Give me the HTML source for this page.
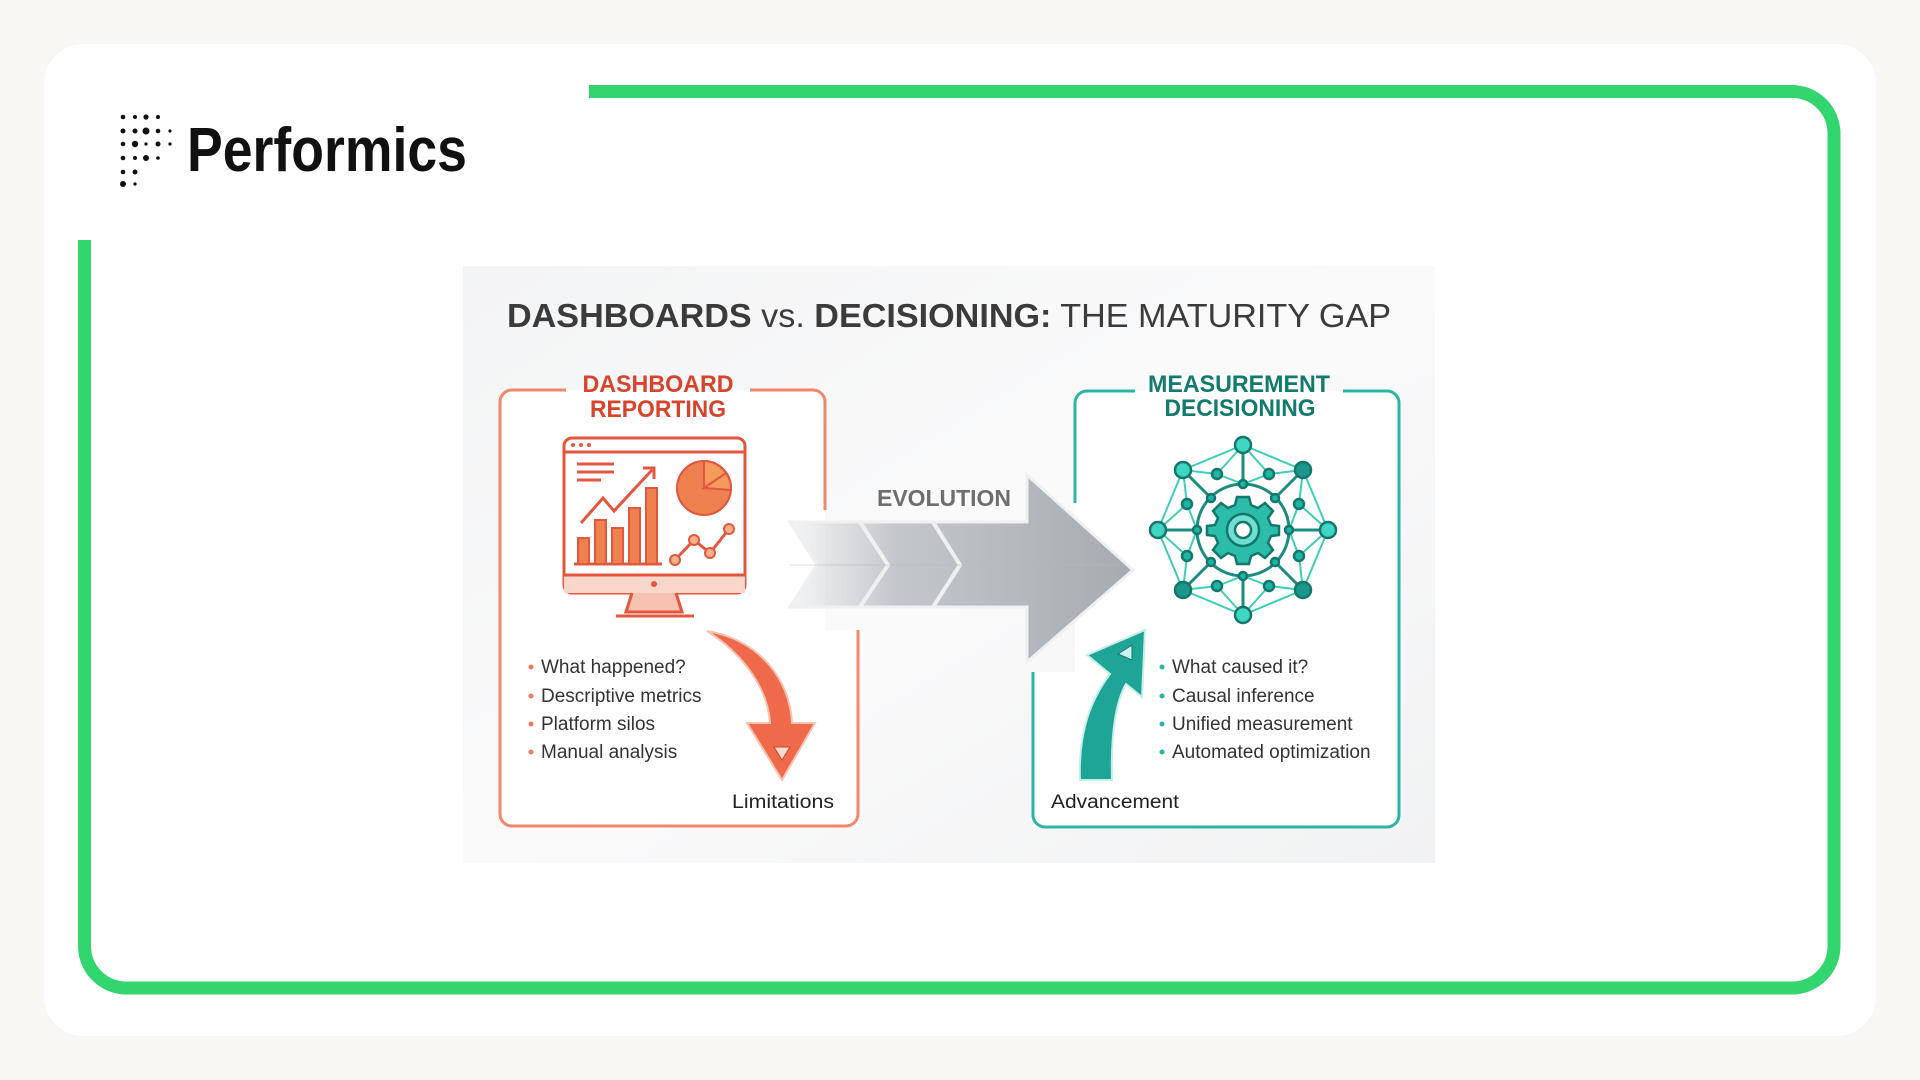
<!DOCTYPE html>
<html><head><meta charset="utf-8"><style>
html,body{margin:0;padding:0;width:1920px;height:1080px;background:#f8f7f4;overflow:hidden}
svg{display:block}
</style></head><body>
<svg width="1920" height="1080" viewBox="0 0 1920 1080" xmlns="http://www.w3.org/2000/svg" font-family="'Liberation Sans', sans-serif">
<defs>
<linearGradient id="bg" x1="0" y1="0" x2="1" y2="1"><stop offset="0" stop-color="#f3f4f5"/><stop offset="0.5" stop-color="#fafafb"/><stop offset="1" stop-color="#f1f2f3"/></linearGradient>
<linearGradient id="ar" x1="0" y1="0" x2="1" y2="0"><stop offset="0" stop-color="#d8dadd" stop-opacity="0.3"/><stop offset="0.3" stop-color="#c4c7cb"/><stop offset="1" stop-color="#a7abb1"/></linearGradient>
</defs>
<rect x="44" y="44" width="1832" height="992" rx="40" fill="#ffffff"/>
<path d="M84.5 240 V946 a42 42 0 0 0 42 42 H1792 a42 42 0 0 0 42 -42 V133.5 a42 42 0 0 0 -42 -42 H589" fill="none" stroke="#33d56f" stroke-width="13"/>
<!-- logo -->
<g fill="#111" transform="translate(0,-4)">
<circle cx="123" cy="121" r="2.3"/><circle cx="135" cy="121" r="2"/><circle cx="146" cy="121" r="2.6"/><circle cx="158" cy="121" r="2"/>
<circle cx="123" cy="135" r="2.5"/><circle cx="135" cy="135" r="2.5"/><circle cx="146" cy="135" r="3.5"/><circle cx="158" cy="135" r="2.3"/><circle cx="170" cy="135" r="1.6"/>
<circle cx="123" cy="148" r="2.3"/><circle cx="135" cy="148" r="3.2"/><circle cx="146" cy="148" r="1.6"/><circle cx="158" cy="148" r="2.5"/><circle cx="170" cy="148" r="1.6"/>
<circle cx="123" cy="162" r="2.3"/><circle cx="135" cy="162" r="2"/><circle cx="146" cy="162" r="3"/><circle cx="158" cy="162" r="1.8"/>
<circle cx="123" cy="176" r="2.3"/><circle cx="135" cy="176" r="2.5"/>
<circle cx="123" cy="188" r="3"/><circle cx="135" cy="188" r="1.6"/>
</g>
<text x="187" y="171" font-size="62" font-weight="bold" fill="#111" textLength="280" lengthAdjust="spacingAndGlyphs">Performics</text>
<!-- diagram background -->
<rect x="463" y="266" width="972" height="597" fill="url(#bg)"/>
<text x="507" y="327" font-size="33" fill="#3b3b3b" textLength="884" lengthAdjust="spacingAndGlyphs"><tspan font-weight="bold">DASHBOARDS</tspan> vs. <tspan font-weight="bold">DECISIONING:</tspan> THE MATURITY GAP</text>
<!-- left box -->
<path d="M500 390 H825 V630 H858 V826 H500 Z" fill="#fff"/>
<g fill="none" stroke="#f2876b" stroke-width="3">
<path d="M566 390 H512 a12 12 0 0 0 -12 12 V814 a12 12 0 0 0 12 12 H846 a12 12 0 0 0 12 -12 V630"/>
<path d="M750 390 H813 a12 12 0 0 1 12 12 V510"/>
</g>
<text x="658" y="392" font-size="24" font-weight="bold" fill="#d8432b" text-anchor="middle" textLength="151" lengthAdjust="spacingAndGlyphs">DASHBOARD</text>
<text x="658" y="417" font-size="24" font-weight="bold" fill="#d8432b" text-anchor="middle" textLength="136" lengthAdjust="spacingAndGlyphs">REPORTING</text>
<!-- monitor -->
<g stroke="#e2573d" stroke-width="3" fill="none">
<rect x="564" y="438" width="181" height="155" rx="8" fill="#fff"/>
<line x1="564" y1="452" x2="745" y2="452"/>
<rect x="564" y="575" width="181" height="18" fill="#fbd6cb" stroke="none"/>
<line x1="564" y1="575" x2="745" y2="575"/>
<path d="M632 593 L626 612 H682 L676 593" fill="#f7c2b0"/>
<line x1="616" y1="616" x2="694" y2="616"/>
<line x1="577" y1="464" x2="614" y2="464"/><line x1="577" y1="472" x2="614" y2="472"/><line x1="577" y1="480" x2="601" y2="480"/>
<path d="M581 523 L603 498 L614 511 L652 470"/><path d="M643 468 L654 468 L654 479"/>
<line x1="574" y1="564" x2="662" y2="564"/>
<path d="M675 560 L694 540 L710 553 L729 529"/>
</g>
<g fill="#ef8050" stroke="#e2573d" stroke-width="2">
<rect x="578" y="538" width="11" height="26"/><rect x="595" y="520" width="11" height="44"/><rect x="612" y="528" width="11" height="36"/><rect x="629" y="508" width="11" height="56"/><rect x="646" y="488" width="11" height="76"/>
<circle cx="704" cy="488" r="27"/>
<path d="M704 488 L704 461 A27 27 0 0 1 726 473 Z" fill="#f49a5c"/><path d="M704 488 L726 473 A27 27 0 0 1 731 490 Z" fill="#f49a5c"/>
<circle cx="675" cy="560" r="5" fill="#f6b08a"/><circle cx="694" cy="540" r="5" fill="#f6b08a"/><circle cx="710" cy="553" r="5" fill="#f6b08a"/><circle cx="729" cy="529" r="5" fill="#f6b08a"/>
</g>
<circle cx="654" cy="584" r="3" fill="#e2573d"/>
<g fill="#e2573d"><circle cx="573" cy="445" r="2"/><circle cx="581" cy="445" r="2"/><circle cx="589" cy="445" r="2"/></g>
<!-- left bullets -->
<g font-size="19" fill="#333">
<text x="541" y="673">What happened?</text><text x="541" y="702">Descriptive metrics</text><text x="541" y="730">Platform silos</text><text x="541" y="758">Manual analysis</text>
</g>
<g fill="#ee7a62"><circle cx="531" cy="667" r="2.5"/><circle cx="531" cy="696" r="2.5"/><circle cx="531" cy="724" r="2.5"/><circle cx="531" cy="752" r="2.5"/></g>
<text x="732" y="808" font-size="19" fill="#222" textLength="102" lengthAdjust="spacingAndGlyphs">Limitations</text>
<!-- orange arrow -->
<path d="M707 631 C760 640 790 680 792 723 L815 723 L782 780 L747 723 L770 723 C768 690 745 655 707 631 Z" fill="#ee6a4a" stroke="#f8c2b1" stroke-width="2"/>
<path d="M774 747 L790 747 L782 760 Z" fill="#fbd9cf" stroke="#c64a30"/>
<!-- right box -->
<path d="M1075 391 H1399 V827 H1033 V672 H1075 Z" fill="#fff"/>
<g fill="none" stroke="#2bb5a8" stroke-width="3">
<path d="M1135 391 H1087 a12 12 0 0 0 -12 12 V503"/>
<path d="M1343 391 H1387 a12 12 0 0 1 12 12 V815 a12 12 0 0 1 -12 12 H1045 a12 12 0 0 1 -12 -12 V672"/>
</g>
<text x="1239" y="392" font-size="24" font-weight="bold" fill="#137a70" text-anchor="middle" textLength="182" lengthAdjust="spacingAndGlyphs">MEASUREMENT</text>
<text x="1240" y="416" font-size="24" font-weight="bold" fill="#137a70" text-anchor="middle" textLength="151" lengthAdjust="spacingAndGlyphs">DECISIONING</text>
<!-- evolution arrow -->
<path d="M790 522 H1027 V475 L1133 570 L1027 662 V607 H790 L817 565 Z" fill="url(#ar)" stroke="#eef0f1" stroke-width="3"/>
<path d="M860 522 L888 565 L860 607 M933 522 L960 565 L933 607" fill="none" stroke="#eef0f1" stroke-width="4"/>
<path d="M790 565 H1120" stroke="#b7bbc0" stroke-width="1" opacity="0.5"/>
<text x="944" y="506" font-size="23" font-weight="bold" fill="#6e6e70" text-anchor="middle" textLength="134" lengthAdjust="spacingAndGlyphs">EVOLUTION</text>
<!-- network -->
<g transform="translate(1243,530)">
<g stroke="#3ccfb8" stroke-width="2" fill="none">
<polygon points="0,-85 60,-60 85,0 60,60 0,85 -60,60 -85,0 -60,-60"/>
<circle r="46" stroke="#1a8c80" stroke-width="3"/>
<path d="M0,-85 L0,-46 M60,-60 L32,-32 M85,0 L46,0 M60,60 L32,32 M0,85 L0,46 M-60,60 L-32,32 M-85,0 L-46,0 M-60,-60 L-32,-32" stroke="#1a8c80" stroke-width="3"/>
<path d="M0,-85 L-26,-56 L-60,-60 M0,-85 L26,-56 L60,-60 M60,-60 L56,-26 L85,0 M85,0 L56,26 L60,60 M60,60 L26,56 L0,85 M0,85 L-26,56 L-60,60 M-60,60 L-56,26 L-85,0 M-85,0 L-56,-26 L-60,-60"/>
<path d="M-26,-56 L0,-46 L26,-56 M56,-26 L46,0 L56,26 M26,56 L0,46 L-26,56 M-56,26 L-46,0 L-56,-26"/>
</g>
<g fill="#1fb5a3" stroke="#14776d" stroke-width="2.5">
<circle cx="0" cy="-85" r="8" fill="#3fd6c2"/><circle cx="60" cy="-60" r="8" fill="#1a968a"/><circle cx="85" cy="0" r="8" fill="#3fd6c2"/><circle cx="60" cy="60" r="8" fill="#1a968a"/>
<circle cx="0" cy="85" r="8" fill="#3fd6c2"/><circle cx="-60" cy="60" r="8" fill="#1a968a"/><circle cx="-85" cy="0" r="8" fill="#3fd6c2"/><circle cx="-60" cy="-60" r="8" fill="#3fd6c2"/>
<circle cx="-26" cy="-56" r="5"/><circle cx="26" cy="-56" r="5"/><circle cx="56" cy="-26" r="5"/><circle cx="56" cy="26" r="5"/><circle cx="26" cy="56" r="5"/><circle cx="-26" cy="56" r="5"/><circle cx="-56" cy="26" r="5"/><circle cx="-56" cy="-26" r="5"/>
<circle cx="0" cy="-46" r="4"/><circle cx="46" cy="0" r="4"/><circle cx="0" cy="46" r="4"/><circle cx="-46" cy="0" r="4"/>
<circle cx="32" cy="-32" r="4"/><circle cx="32" cy="32" r="4"/><circle cx="-32" cy="32" r="4"/><circle cx="-32" cy="-32" r="4"/>
</g>
<g fill="#2bbcaa" stroke="#14776d" stroke-width="2.5">
<path d="M-6,-32 L6,-32 L8,-24 L15,-21 L22,-26 L30,-18 L25,-11 L28,-4 L36,-3 V6 L28,7 L25,14 L30,21 L22,29 L15,24 L8,27 L6,35 H-6 L-8,27 L-15,24 L-22,29 L-30,21 L-25,14 L-28,7 L-36,6 V-3 L-28,-4 L-25,-11 L-30,-18 L-22,-26 L-15,-21 L-8,-24 Z" transform="translate(0,-1)"/>
<circle r="16" fill="#6fe0cf"/><circle r="8" fill="#fff"/>
</g>
</g>
<!-- right bullets -->
<g font-size="19" fill="#333">
<text x="1172" y="673">What caused it?</text><text x="1172" y="702">Causal inference</text><text x="1172" y="730">Unified measurement</text><text x="1172" y="758">Automated optimization</text>
</g>
<g fill="#2bb5a8"><circle cx="1162" cy="667" r="2.5"/><circle cx="1162" cy="696" r="2.5"/><circle cx="1162" cy="724" r="2.5"/><circle cx="1162" cy="752" r="2.5"/></g>
<text x="1051" y="808" font-size="19" fill="#222" textLength="128" lengthAdjust="spacingAndGlyphs">Advancement</text>
<!-- teal arrow -->
<path d="M1080 780 C1078 730 1092 698 1110 674 L1087 655 L1145 630 L1142 697 L1126 684 C1114 705 1111 740 1112 780 Z" fill="#1fa597" stroke="#c6eee9" stroke-width="2"/>
<path d="M1118 654 L1132 645 L1132 660 Z" fill="#c9f3ee" stroke="#12766c"/>
</svg>
</body></html>
